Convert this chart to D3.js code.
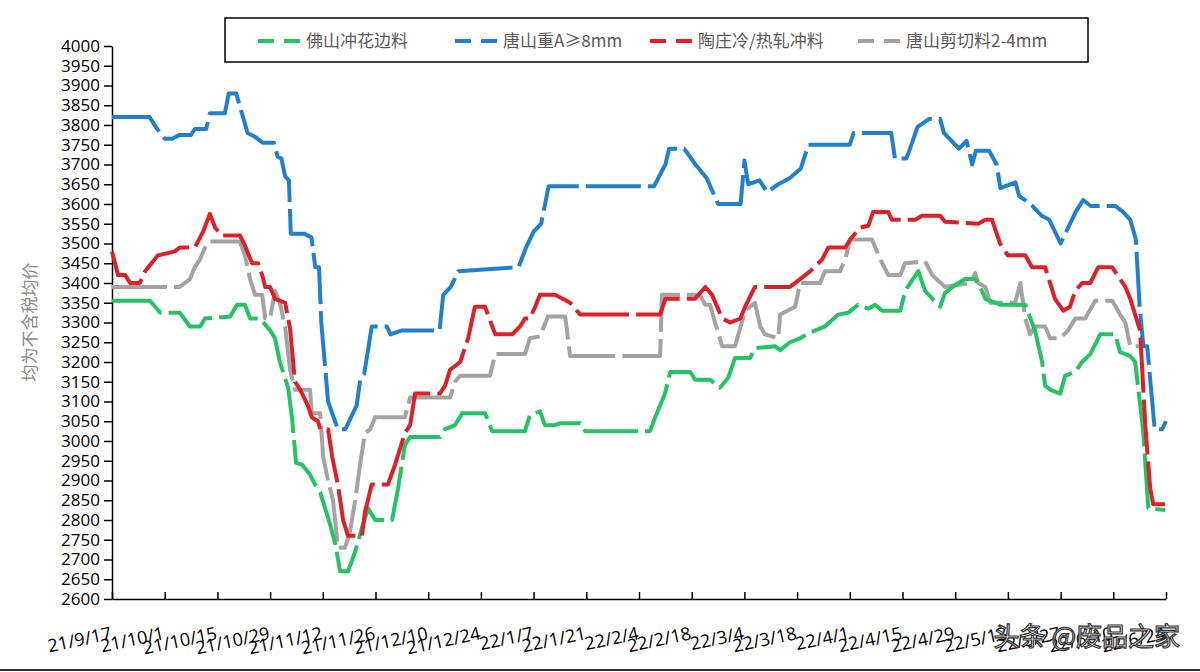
<!DOCTYPE html>
<html>
<head>
<meta charset="utf-8">
<script src="https://cdn.jsdelivr.net/npm/d3@7"></script>
<style>
  body { margin: 0; background: #fff; }
  text { font-family: "Noto Sans CJK SC", "DejaVu Sans", sans-serif; }
</style>
</head>
<body>
<div class="board"></div>
<script>
// dates are days since 2021-09-17
var tickLabels = ['21/9/17','21/10/1','21/10/15','21/10/29','21/11/12','21/11/26','21/12/10','21/12/24',
  '22/1/7','22/1/21','22/2/4','22/2/18','22/3/4','22/3/18','22/4/1','22/4/15','22/4/29','22/5/13','22/5/27','22/6/10','22/6/24'];
var seriesNames = ['佛山冲花边料', '唐山重A≥8mm', '陶庄冷/热轧冲料', '唐山剪切料2-4mm'];
var seriesColors = ['#22c463', '#1f80cf', '#e01f26', '#a3a3a3'];

var greenDays = [0,10.1,12.8,18,20.7,23.4,24.7,31.4,33.2,35.3,36.7,39.3,42,43.3,44.6,46.8,47.8,48.9,50.5,52.6,53.9,55.3,56.6,57.9,59.3,60.6,62.7,64.6,66.4,68,69.9,74.4,76,77.8,79.2,87.1,88.5,91.1,93,99.1,101,109.7,111,113.7,115,117.7,119,124.4,125.7,142.9,144.3,146.9,148.3,153.6,154.9,158.9,161.5,163.7,165.5,169.5,170.8,176.2,177.5,180.1,182.8,185.5,189.4,192.9,195.6,198.2,200.9,202.7,204.6,209.4,210.7,214.2,216,220,221.3,224,226.6,229.3,230.6,232,235.9,242.6,245.2,247.1,247.9,249.2,251.9,253.2,255.9,257.7,259.9,262.5,266.5,267.8,270.5,271.8,273.9,275.3,279.8];
var greenVals = [3355,3355,3325,3325,3290,3290,3310,3315,3345,3345,3310,3310,3280,3260,3200,3135,3060,2945,2940,2915,2890,2870,2830,2790,2740,2670,2670,2720,2780,2830,2800,2800,2880,2990,3010,3010,3030,3040,3070,3070,3025,3025,3065,3075,3040,3040,3045,3045,3025,3025,3060,3120,3175,3175,3155,3155,3135,3160,3210,3210,3235,3240,3230,3250,3260,3275,3290,3320,3325,3345,3335,3345,3330,3330,3380,3430,3380,3340,3375,3395,3410,3410,3390,3360,3345,3345,3280,3200,3140,3130,3120,3165,3175,3200,3220,3270,3270,3225,3215,3200,3030,2830,2825];

var blueDays = [0,10,12,14,16,18,21,22,25,26,30,31,33,36,38,40,43,44,45,46,47,47.5,51,53,54,55,55.6,57.4,60,62,65,66,67,69,73,74,77,87,88,90,92,108,110,112,114,116,144,147,148,152,155,158,161,167,168,169,172,174,177,180,183,185,196,197,207,208,211,212,214,217,220,221,224,225,227,228.5,229.5,233,235,236,240,241,244,247,249,252,256,258,260,266.5,268.6,270.5,272,273,274,275,277,279,280];
var blueVals = [3820,3820,3790,3765,3765,3775,3775,3790,3790,3830,3830,3880,3880,3780,3770,3755,3755,3720,3715,3670,3660,3525,3525,3515,3440,3440,3300,3100,3030,3030,3090,3160,3170,3290,3290,3270,3280,3280,3370,3390,3430,3440,3490,3530,3550,3645,3645,3700,3740,3740,3700,3665,3600,3600,3710,3650,3660,3630,3650,3665,3690,3750,3750,3780,3780,3715,3715,3740,3795,3815,3815,3780,3750,3740,3760,3700,3735,3735,3700,3640,3655,3620,3600,3570,3560,3500,3580,3610,3595,3595,3580,3560,3510,3340,3240,3240,3030,3030,3050];

var redDays = [0,1.6,3.5,4.8,7.4,8.8,12.2,16.7,18,22,24.2,26,27.4,29.2,34,35.3,37.2,38.8,39.9,40.7,42,43.3,46,47.3,48.6,50,52,53.1,54.7,55.3,57.4,58.5,60,61.4,62.7,66.4,67.2,69,73.3,75.2,77.8,79.2,80.5,87.1,88.5,89.8,92.5,94.6,96.4,99.1,101.8,106.3,108.4,109.7,111,112.4,113.7,117.7,121.7,124.4,145.6,147,154.9,157.6,159.4,162.1,164.2,166.9,168.2,170.8,180.1,182.8,185.5,188.7,190.3,194.8,196.1,198.7,200.9,202.2,206.2,207.2,213.4,215.2,220,221.3,230.1,232,233.8,235.9,237.3,238,242.6,244.4,247.9,250.5,252.7,254.5,255.9,257.7,259.9,262,265.7,267.8,269.2,270.5,273.1,274.5,275.8,276.6,279.8];
var redVals = [3480,3420,3420,3400,3400,3430,3470,3480,3490,3490,3530,3575,3540,3520,3520,3495,3450,3450,3420,3390,3390,3360,3350,3285,3150,3130,3090,3060,3050,3030,3030,2960,2890,2800,2760,2760,2820,2890,2890,2940,3020,3040,3120,3120,3140,3180,3200,3260,3340,3340,3270,3270,3290,3310,3310,3340,3370,3370,3350,3320,3320,3360,3360,3390,3370,3310,3300,3310,3340,3390,3390,3410,3430,3460,3490,3490,3510,3540,3545,3580,3580,3560,3560,3570,3570,3555,3550,3560,3560,3500,3480,3470,3470,3440,3440,3360,3330,3340,3380,3400,3400,3440,3440,3410,3390,3360,3280,3040,2880,2840,2840];

var grayDays = [0,18,20.7,22,23.4,24.7,26,34,35.3,36.7,38,39.9,40.7,42,43.3,44.6,46,47.3,48.6,52.6,53.1,55.3,56.1,57.4,58.7,59.5,60,61.9,63.2,64.6,65.9,67.2,68.6,69.9,77.8,79.2,89.8,91.1,92.5,100.4,101.8,109.7,111,113.7,115.8,120.4,121.7,145.6,146.1,156.2,157.6,158.9,160.2,162.1,165.5,168.2,170.8,172.2,173.5,177,177.5,181.5,182.8,188.1,189.4,193.4,194.8,196.1,201.9,204.1,206.2,209.4,210.7,216,217.9,221.3,228,229.3,230.1,232,233.3,239.9,241.3,242.6,243.9,245.2,247.9,249.2,251.9,254,255.9,258.5,261.2,265.7,267.8,269.2,270.5,273.1];
var grayVals = [3390,3390,3410,3440,3460,3490,3505,3505,3470,3410,3370,3370,3310,3310,3380,3350,3290,3180,3130,3130,3070,3070,2960,2900,2850,2780,2730,2730,2770,2850,2940,3020,3030,3060,3060,3110,3110,3150,3165,3165,3220,3220,3260,3265,3315,3315,3215,3215,3370,3370,3345,3345,3300,3240,3240,3330,3350,3290,3270,3260,3320,3340,3400,3400,3430,3430,3460,3510,3510,3460,3420,3420,3450,3455,3420,3390,3400,3425,3400,3390,3350,3350,3400,3310,3270,3290,3290,3260,3260,3280,3310,3310,3355,3355,3320,3300,3240,3240];

var yTicks = d3.range(2600, 4001, 50);

var W = 1200, H = 672;
var svg = d3.select('.board').append('svg').attr('width', W).attr('height', H);

var x = d3.scaleLinear().domain([0, 280]).range([112, 1166]);
var y = d3.scaleLinear().domain([2600, 4000]).range([599, 46]);

// y axis
var yAxis = svg.append('g').attr('transform', 'translate(112,0)')
  .call(d3.axisLeft(y).tickValues(yTicks).tickFormat(d3.format('d')).tickSize(8).tickSizeOuter(0));
yAxis.select('.domain').attr('stroke', '#000').attr('stroke-width', 1.5);
yAxis.selectAll('line').attr('stroke', '#000').attr('stroke-width', 1.5);
yAxis.selectAll('text').attr('font-size', 17).attr('fill', '#000').attr('x', -12)
  .style('font-family', '"Open Sans", sans-serif');

// x axis
var xAxis = svg.append('g').attr('transform', 'translate(0,599)')
  .call(d3.axisBottom(x).tickValues(d3.range(0, 281, 14)).tickSize(-7).tickSizeOuter(0).tickFormat(function(d, i) { return tickLabels[i]; }));
xAxis.select('.domain').attr('stroke', '#000').attr('stroke-width', 1.5);
xAxis.selectAll('line').attr('stroke', '#000').attr('stroke-width', 1.5);
xAxis.selectAll('text').attr('font-size', 18).attr('fill', '#000')
  .attr('text-anchor', 'end').attr('y', 0).attr('dy', 0)
  .attr('transform', 'translate(0,40) rotate(-12)')
  .style('font-family', '"Open Sans", sans-serif');

svg.append('text').attr('transform', 'translate(36,322) rotate(-90)')
  .attr('text-anchor', 'middle').attr('font-size', 17).attr('fill', '#8a8a8a').text('均为不含税均价');

// lines
var allDays = [greenDays, blueDays, redDays, grayDays];
var allVals = [greenVals, blueVals, redVals, grayVals];
var line = d3.line().x(function(d) { return x(d[0]); }).y(function(d) { return y(d[1]); });
[3, 0, 1, 2].forEach(function(k) {
  var pts = d3.zip(allDays[k], allVals[k]);
  svg.append('path').datum(pts).attr('d', line)
    .attr('fill', 'none').attr('stroke', seriesColors[k]).attr('stroke-width', 4)
    .attr('stroke-dasharray', '55,7').attr('stroke-linejoin', 'round');
});

// legend
svg.append('rect').attr('x', 225).attr('y', 18).attr('width', 863).attr('height', 44)
  .attr('fill', '#fff').attr('stroke', '#000').attr('stroke-width', 1.5);
var legX = [258, 455, 650, 858];
seriesNames.forEach(function(name, i) {
  svg.append('line').attr('x1', legX[i]).attr('x2', legX[i] + 42).attr('y1', 41).attr('y2', 41)
    .attr('stroke', seriesColors[i]).attr('stroke-width', 4).attr('stroke-dasharray', '16,10');
  svg.append('text').attr('x', legX[i] + 48).attr('y', 47).attr('font-size', 17)
    .attr('fill', '#595959').text(name);
});

// watermark
svg.append('text').attr('x', 1180).attr('y', 646).attr('text-anchor', 'end')
  .attr('font-size', 26).attr('fill', '#fff').attr('stroke', '#333').attr('stroke-width', 1.2)
  .text('头条 @废品之家');
svg.append('line').attr('x1', 0).attr('x2', W).attr('y1', 670).attr('y2', 670)
  .attr('stroke', '#333').attr('stroke-width', 2);
</script>
</body>
</html>
